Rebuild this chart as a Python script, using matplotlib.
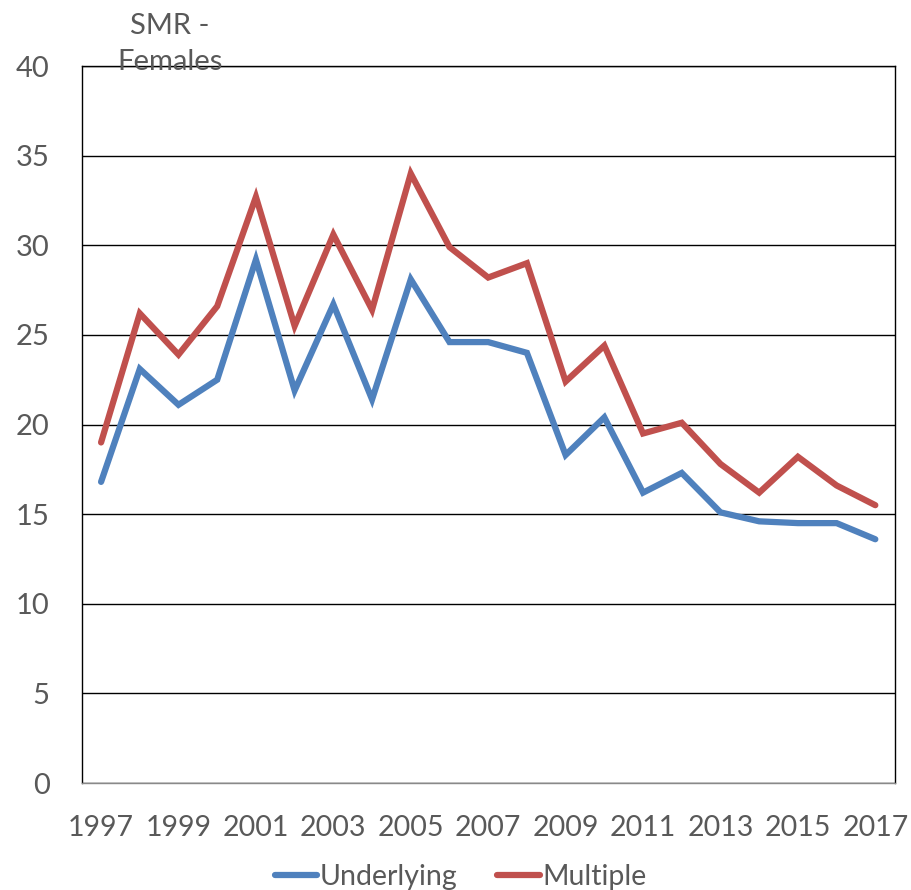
import numpy as np
import matplotlib
matplotlib.use("Agg")
import matplotlib.pyplot as plt

years = list(range(1997, 2018))
underlying = [16.8, 23.1, 21.1, 22.5, 29.2, 21.9, 26.7, 21.4, 28.1, 24.6, 24.6,
              24.0, 18.3, 20.4, 16.2, 17.3, 15.1, 14.6, 14.5, 14.5, 13.6]
multiple = [19.0, 26.2, 23.9, 26.6, 32.7, 25.5, 30.6, 26.4, 34.0, 29.9, 28.2,
            29.0, 22.4, 24.4, 19.5, 20.1, 17.8, 16.2, 18.2, 16.6, 15.5]
yticks = [0, 5, 10, 15, 20, 25, 30, 35, 40]

grey = "#595959"
plt.rcParams['font.family'] = ['Lato', 'DejaVu Sans']

fig = plt.figure(figsize=(9.12, 8.90), dpi=100)
ax = fig.add_axes([0.0896, 0.1202, 0.8914, 0.8056])

x = np.arange(len(years))
ax.plot(x, underlying, color="#4F81BD", lw=4.5, label="Underlying",
        solid_capstyle="round", solid_joinstyle="miter")
ax.plot(x, multiple, color="#C0504D", lw=4.5, label="Multiple",
        solid_capstyle="round", solid_joinstyle="miter")

ax.set_xlim(-0.5, len(years) - 0.5)
ax.set_ylim(0, 40)
ax.set_yticks(yticks)
ax.set_xticks(x[::2])
ax.set_xticklabels([str(y) for y in years[::2]])
ax.grid(axis="y", color="black", lw=1)
ax.set_axisbelow(True)
ax.tick_params(axis="y", length=0, labelsize=21, colors=grey, pad=23)
ax.tick_params(axis="x", length=0, labelsize=20.5, colors=grey, pad=23)
for s in ax.spines.values():
    s.set_color("black")
    s.set_linewidth(1)
ax.spines["bottom"].set_color("#898989")

# title sits above the plot, second line crossed by the top gridline
fig.text(0.186, 0.9854, "SMR -\nFemales", ha="center", va="top",
         fontsize=21, color=grey, linespacing=1.5)

fig.legend(loc="center", bbox_to_anchor=(0.505, 0.015), ncol=2, frameon=False,
           fontsize=20.5, labelcolor=grey, handlelength=1.5, handletextpad=0.08,
           columnspacing=1.4)

fig.savefig("out.png", dpi=100)
